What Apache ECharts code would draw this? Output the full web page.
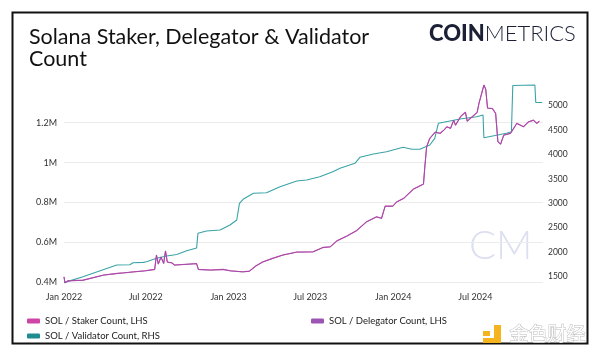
<!DOCTYPE html>
<html>
<head>
<meta charset="utf-8">
<script src="https://cdn.jsdelivr.net/npm/echarts@6/dist/echarts.min.js"></script>
<style>
html,body{margin:0;padding:0;background:#fff;}
#chart{width:600px;height:357px;}
</style>
</head>
<body>
<div id="chart"></div>
<script>
// ---- data ----
const xTickDates = ['2022-01-01','2022-07-01','2023-01-01','2023-07-01','2024-01-01','2024-07-01'];
const xTickLabels = ['Jan 2022','Jul 2022','Jan 2023','Jul 2023','Jan 2024','Jul 2024'];
const leftTickValues = [400000, 600000, 800000, 1000000, 1200000];
const leftTickLabels = ['0.4M','0.6M','0.8M','1M','1.2M'];
const rightTickValues = [1500, 2000, 2500, 3000, 3500, 4000, 4500, 5000];

const seriesNames = ['SOL / Staker Count, LHS', 'SOL / Delegator Count, LHS', 'SOL / Validator Count, RHS'];

const validatorData = [
  ['2022-01-01',1375],['2022-02-12',1496],['2022-04-28',1735],['2022-05-27',1740],
  ['2022-06-03',1782],['2022-06-26',1790],['2022-07-03',1803],['2022-07-25',1873],
  ['2022-08-17',1920],['2022-09-08',1950],['2022-09-30',2028],['2022-10-22',2085],
  ['2022-10-25',2384],['2022-11-13',2431],['2022-12-13',2452],['2023-01-04',2554],
  ['2023-01-19',2657],['2023-01-25',2998],['2023-02-02',3080],['2023-02-25',3203],
  ['2023-03-26',3215],['2023-04-25',3338],['2023-06-01',3455],['2023-06-23',3475],
  ['2023-07-22',3543],['2023-08-20',3645],['2023-09-05',3715],['2023-10-08',3817],
  ['2023-10-19',3940],['2023-11-18',4008],['2023-12-17',4055],['2024-01-23',4145],
  ['2024-02-11',4104],['2024-02-29',4104],['2024-03-22',4192],['2024-04-02',4329],
  ['2024-04-10',4636],['2024-04-13',4669],['2024-05-28',4724],['2024-07-04',4771],
  ['2024-07-18',4806],['2024-07-20',4341],['2024-09-08',4431],['2024-09-19',4464],
  ['2024-09-22',5410],['2024-11-10',5420],['2024-11-12',5062],['2024-11-26',5062]
];

const stakerData = [
  ['2022-01-01',428000],['2022-01-03',398000],['2022-01-10',408000],['2022-02-12',411000],
  ['2022-03-30',437000],['2022-04-29',445000],['2022-05-14',448000],['2022-06-05',453000],
  ['2022-06-29',458000],['2022-07-21',465000],['2022-07-25',537000],['2022-07-29',492000],
  ['2022-08-04',527000],['2022-08-10',495000],['2022-08-14',558000],['2022-08-18',502000],
  ['2022-08-28',498000],['2022-09-03',487000],['2022-10-22',494000],['2022-10-26',465000],
  ['2022-11-22',462000],['2022-12-20',465000],['2023-01-05',458000],['2023-02-01',453000],
  ['2023-02-16',456000],['2023-03-02',482000],['2023-03-17',502000],['2023-04-08',520000],
  ['2023-05-01',537000],['2023-06-01',552000],['2023-07-07',553000],['2023-07-29',575000],
  ['2023-08-14',578000],['2023-08-29',608000],['2023-09-20',632000],['2023-10-12',660000],
  ['2023-11-03',704000],['2023-11-25',729000],['2023-12-06',721000],['2023-12-14',782000],
  ['2023-12-31',782000],['2024-01-09',804000],['2024-01-24',821000],['2024-02-15',868000],
  ['2024-03-08',893000],['2024-03-11',979000],['2024-03-15',1080000],['2024-03-22',1122000],
  ['2024-04-03',1153000],['2024-04-14',1147000],['2024-04-22',1163000],['2024-04-29',1180000],
  ['2024-05-07',1172000],['2024-05-14',1213000],['2024-05-18',1188000],['2024-05-29',1230000],
  ['2024-06-09',1253000],['2024-06-13',1208000],['2024-06-24',1230000],['2024-07-05',1252000],
  ['2024-07-09',1297000],['2024-07-20',1389000],['2024-07-24',1369000],['2024-07-28',1274000],
  ['2024-08-08',1271000],['2024-08-15',1247000],['2024-08-20',1105000],['2024-08-26',1093000],
  ['2024-09-02',1138000],['2024-09-17',1147000],['2024-10-01',1197000],['2024-10-16',1180000],
  ['2024-10-27',1205000],['2024-11-07',1213000],['2024-11-14',1197000],['2024-11-20',1208000]
];

const delegatorData = [
  ['2022-01-01',427000],['2022-01-03',397000],['2022-01-10',407000],['2022-02-12',410000],
  ['2022-03-30',436000],['2022-04-29',444000],['2022-05-14',447000],['2022-06-05',452000],
  ['2022-06-29',457000],['2022-07-21',464000],['2022-07-25',536000],['2022-07-29',491000],
  ['2022-08-04',526000],['2022-08-10',494000],['2022-08-14',557000],['2022-08-18',501000],
  ['2022-08-28',497000],['2022-09-03',486000],['2022-10-22',493000],['2022-10-26',464000],
  ['2022-11-22',461000],['2022-12-20',464000],['2023-01-05',457000],['2023-02-01',452000],
  ['2023-02-16',455000],['2023-03-02',481000],['2023-03-17',501000],['2023-04-08',519000],
  ['2023-05-01',536000],['2023-06-01',551000],['2023-07-07',552000],['2023-07-29',574000],
  ['2023-08-14',577000],['2023-08-29',607000],['2023-09-20',631000],['2023-10-12',659000],
  ['2023-11-03',703000],['2023-11-25',728000],['2023-12-06',720000],['2023-12-14',781000],
  ['2023-12-31',781000],['2024-01-09',803000],['2024-01-24',820000],['2024-02-15',867000],
  ['2024-03-08',892000],['2024-03-11',978000],['2024-03-15',1079000],['2024-03-22',1121000],
  ['2024-04-03',1152000],['2024-04-14',1146000],['2024-04-22',1162000],['2024-04-29',1179000],
  ['2024-05-07',1171000],['2024-05-14',1212000],['2024-05-18',1187000],['2024-05-29',1229000],
  ['2024-06-09',1252000],['2024-06-13',1207000],['2024-06-24',1229000],['2024-07-05',1251000],
  ['2024-07-09',1296000],['2024-07-20',1388000],['2024-07-24',1368000],['2024-07-28',1273000],
  ['2024-08-08',1270000],['2024-08-15',1246000],['2024-08-20',1104000],['2024-08-26',1092000],
  ['2024-09-02',1137000],['2024-09-17',1146000],['2024-10-01',1196000],['2024-10-16',1179000],
  ['2024-10-27',1204000],['2024-11-07',1212000],['2024-11-14',1196000],['2024-11-20',1207000]
];

// ---- helpers ----
function ts(s){ const p = s.split('-').map(Number); return Date.UTC(p[0], p[1]-1, p[2]); }
function toXY(arr){ return arr.map(d => [ts(d[0]), d[1]]); }
const xTickTs = xTickDates.map(ts);

const FONT = 'Lato, "Open Sans", sans-serif';
const chart = echarts.init(document.getElementById('chart'), null, {renderer:'canvas'});

const option = {
  backgroundColor: '#ffffff',
  animation: false,
  title: {
    text: 'Solana Staker, Delegator & Validator\nCount',
    left: 24, top: 21,
    textStyle: { fontFamily: FONT, fontSize: 21.5, fontWeight: 'normal', color: '#111', lineHeight: 22 }
  },
  grid: { left: 64, right: 57, top: 82.8, bottom: 70.7, containLabel: false },
  legend: [
    {
      data: [seriesNames[0], seriesNames[2]],
      orient: 'vertical', left: 22, top: 311, itemWidth: 13, itemHeight: 5, itemGap: 5,
      icon: 'roundRect',
      textStyle: { fontFamily: FONT, fontSize: 9.5, color: '#222' }
    },
    {
      data: [seriesNames[1]],
      orient: 'vertical', left: 306, top: 311, itemWidth: 13, itemHeight: 5,
      icon: 'roundRect',
      textStyle: { fontFamily: FONT, fontSize: 9.5, color: '#222' }
    }
  ],
  xAxis: {
    type: 'value',
    min: ts('2022-01-01'), max: ts('2024-11-28'),
    axisLine: { show: false }, axisTick: { show: false }, splitLine: { show: false },
    axisLabel: {
      customValues: xTickTs,
      formatter: v => { const i = xTickTs.indexOf(v); return i >= 0 ? xTickLabels[i] : ''; },
      fontFamily: FONT, fontSize: 9, color: '#333', margin: 6
    }
  },
  yAxis: [
    {
      type: 'value', position: 'left', min: 380000, max: 1400000, splitNumber: 5,
      axisLine: { show: false }, axisTick: { show: false },
      splitLine: { show: true, showMinLine: false, showMaxLine: false, lineStyle: { color: '#ececec', width: 1 } },
      axisLabel: {
        showMinLabel: false, showMaxLabel: false,
        formatter: v => { const i = leftTickValues.indexOf(v); return i >= 0 ? leftTickLabels[i] : ''; },
        fontFamily: FONT, fontSize: 9, color: '#333', margin: 7
      }
    },
    {
      type: 'value', position: 'right', min: 1300, max: 5465, splitNumber: 8,
      axisLine: { show: false }, axisTick: { show: false }, splitLine: { show: false },
      axisLabel: {
        showMinLabel: false, showMaxLabel: false,
        formatter: v => rightTickValues.indexOf(v) >= 0 ? String(v) : '',
        fontFamily: FONT, fontSize: 8.5, color: '#333', margin: 5
      }
    }
  ],
  series: [
    {
      name: seriesNames[2], type: 'line', yAxisIndex: 1, data: toXY(validatorData),
      showSymbol: false, color: '#1f8d8f', lineStyle: { width: 1.1, color: '#3aa3a6' }, z: 2
    },
    {
      name: seriesNames[0], type: 'line', yAxisIndex: 0, data: toXY(stakerData),
      showSymbol: false, color: '#cf45a6', lineStyle: { width: 1.1, color: '#c44ea8' }, z: 3
    },
    {
      name: seriesNames[1], type: 'line', yAxisIndex: 0, data: toXY(delegatorData),
      showSymbol: false, color: '#9b55b3', lineStyle: { width: 0.9, color: '#a04aa8' }, z: 4
    }
  ],
  graphic: [
    { type: 'rect', shape: { x: 12.5, y: 12.5, width: 575, height: 331 }, style: { fill: null, stroke: '#111', lineWidth: 2 }, z: 100, silent: true },
    { type: 'text', left: 429, top: 23, style: {
        text: '{b|COIN}{l|METRICS}',
        rich: {
          b: { fontFamily: FONT, fontSize: 22, fontWeight: 900, fill: '#1c2036' },
          l: { fontFamily: FONT, fontSize: 22, fontWeight: 300, fill: '#1c2036' }
        }
      }, z: 100 },
    { type: 'text', left: 469, top: 226, style: { text: 'CM', fontFamily: FONT, fontSize: 40, fontWeight: 300, fill: '#dcdfef' }, z: 0 },
    { type: 'rect', shape: { x: 483, y: 331, width: 7, height: 5 }, style: { fill: '#f5b31d' }, z: 110 },
    { type: 'rect', shape: { x: 494, y: 325, width: 7, height: 18 }, style: { fill: '#f5b31d' }, z: 110 },
    { type: 'rect', shape: { x: 483, y: 338, width: 18, height: 5 }, style: { fill: '#f5b31d' }, z: 110 },
    { type: 'text', left: 509, top: 324, style: { text: '金色财经', fontFamily: '"Noto Sans CJK SC", sans-serif', fontSize: 19, fill: '#ffffff', stroke: '#bdbdbd', lineWidth: 1 }, z: 110 }
  ]
};
chart.setOption(option);
</script>
</body>
</html>
